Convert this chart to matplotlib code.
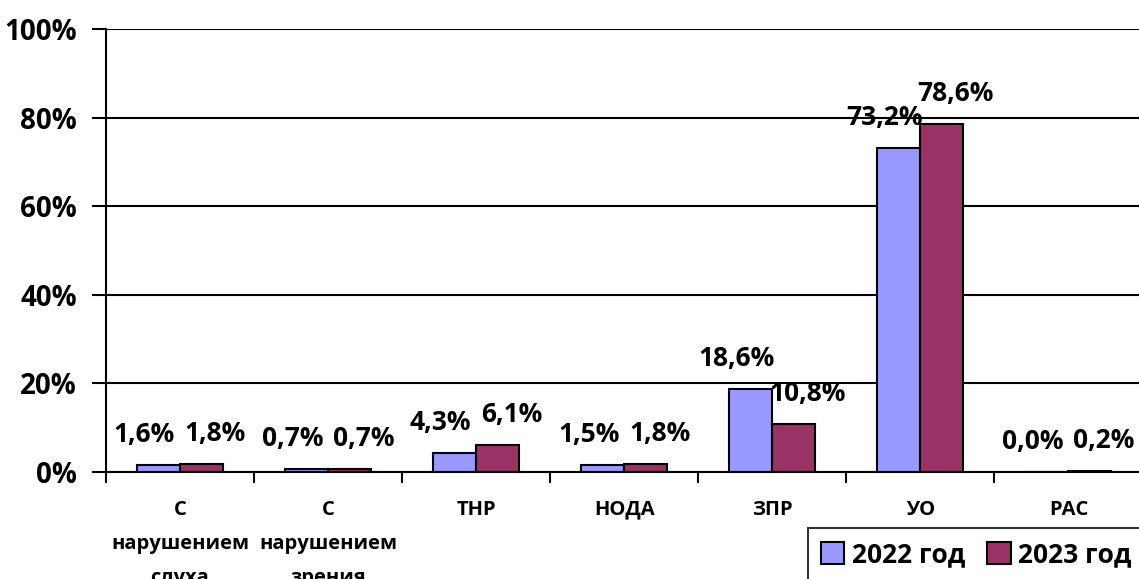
import numpy as np
import matplotlib.pyplot as plt
from matplotlib.ticker import FixedLocator, PercentFormatter
from matplotlib.transforms import offset_copy

plt.rcParams['font.family'] = ['Open Sans', 'DejaVu Sans']
plt.rcParams['font.weight'] = 'bold'

categories = ["С\nнарушением\nслуха", "С\nнарушением\nзрения", "ТНР", "НОДА", "ЗПР", "УО", "РАС"]
vals_2022 = [1.6, 0.7, 4.3, 1.5, 18.6, 73.2, 0.0]
vals_2023 = [1.8, 0.7, 6.1, 1.8, 10.8, 78.6, 0.2]
series_names = ["2022 год", "2023 год"]
colors = ["#9999FF", "#993366"]

fig = plt.figure(figsize=(11.39, 5.79), dpi=100)
ax = fig.add_axes([0.093, 0.185, 0.91, 0.765])

n = len(categories)
x = np.arange(n) + 0.5
w = 0.29

bars = []
for i, (vals, col, name) in enumerate(zip([vals_2022, vals_2023], colors, series_names)):
    pos = x + (i - 0.5) * w
    b = ax.bar(pos, vals, width=w, color=col, edgecolor="black", linewidth=1.5,
               label=name, zorder=3)
    bars.append(b)
    shift = -14 if i == 0 else 14
    for xp, v in zip(pos, vals):
        tr = offset_copy(ax.transData, fig=fig, x=shift, y=17, units="dots")
        ax.text(xp, v, f"{v:.1f}%".replace(".", ","), transform=tr,
                ha="center", va="bottom", fontsize=19, fontweight="bold", zorder=4)

ax.set_xlim(0, n)
ax.set_ylim(0, 100)

ax.yaxis.set_major_locator(FixedLocator([0, 20, 40, 60, 80, 100]))
ax.yaxis.set_major_formatter(PercentFormatter(decimals=0))
ax.grid(axis="y", color="black", linewidth=1.5, zorder=0)
ax.tick_params(axis="y", length=10, width=1.5, pad=11, labelsize=20)

ax.set_xticks(np.arange(n + 1))
ax.set_xticklabels([])
ax.set_xticks(x, minor=True)
ax.set_xticklabels(categories, minor=True, fontsize=14.5, fontweight="bold", linespacing=1.95)
ax.tick_params(axis="x", which="major", length=8, width=1.5, direction="out")
ax.tick_params(axis="x", which="minor", length=0, pad=20)

for s in ["top", "right"]:
    ax.spines[s].set_visible(False)
for s in ["left", "bottom"]:
    ax.spines[s].set_linewidth(1.5)
    ax.spines[s].set_zorder(5)
for t in ax.get_yticklabels():
    t.set_fontweight("bold")

leg = fig.legend(handles=bars, labels=series_names, loc="upper left",
                 bbox_to_anchor=(0.709, 0.088), borderaxespad=0, ncol=2,
                 prop={"weight": "bold", "size": 19}, frameon=True, fancybox=False,
                 handlelength=0.9, handleheight=0.9, handletextpad=0.3,
                 columnspacing=0.8, borderpad=0.5)
leg.get_frame().set_edgecolor("black")
leg.get_frame().set_linewidth(1.5)

fig.savefig("out.png", dpi=100)
